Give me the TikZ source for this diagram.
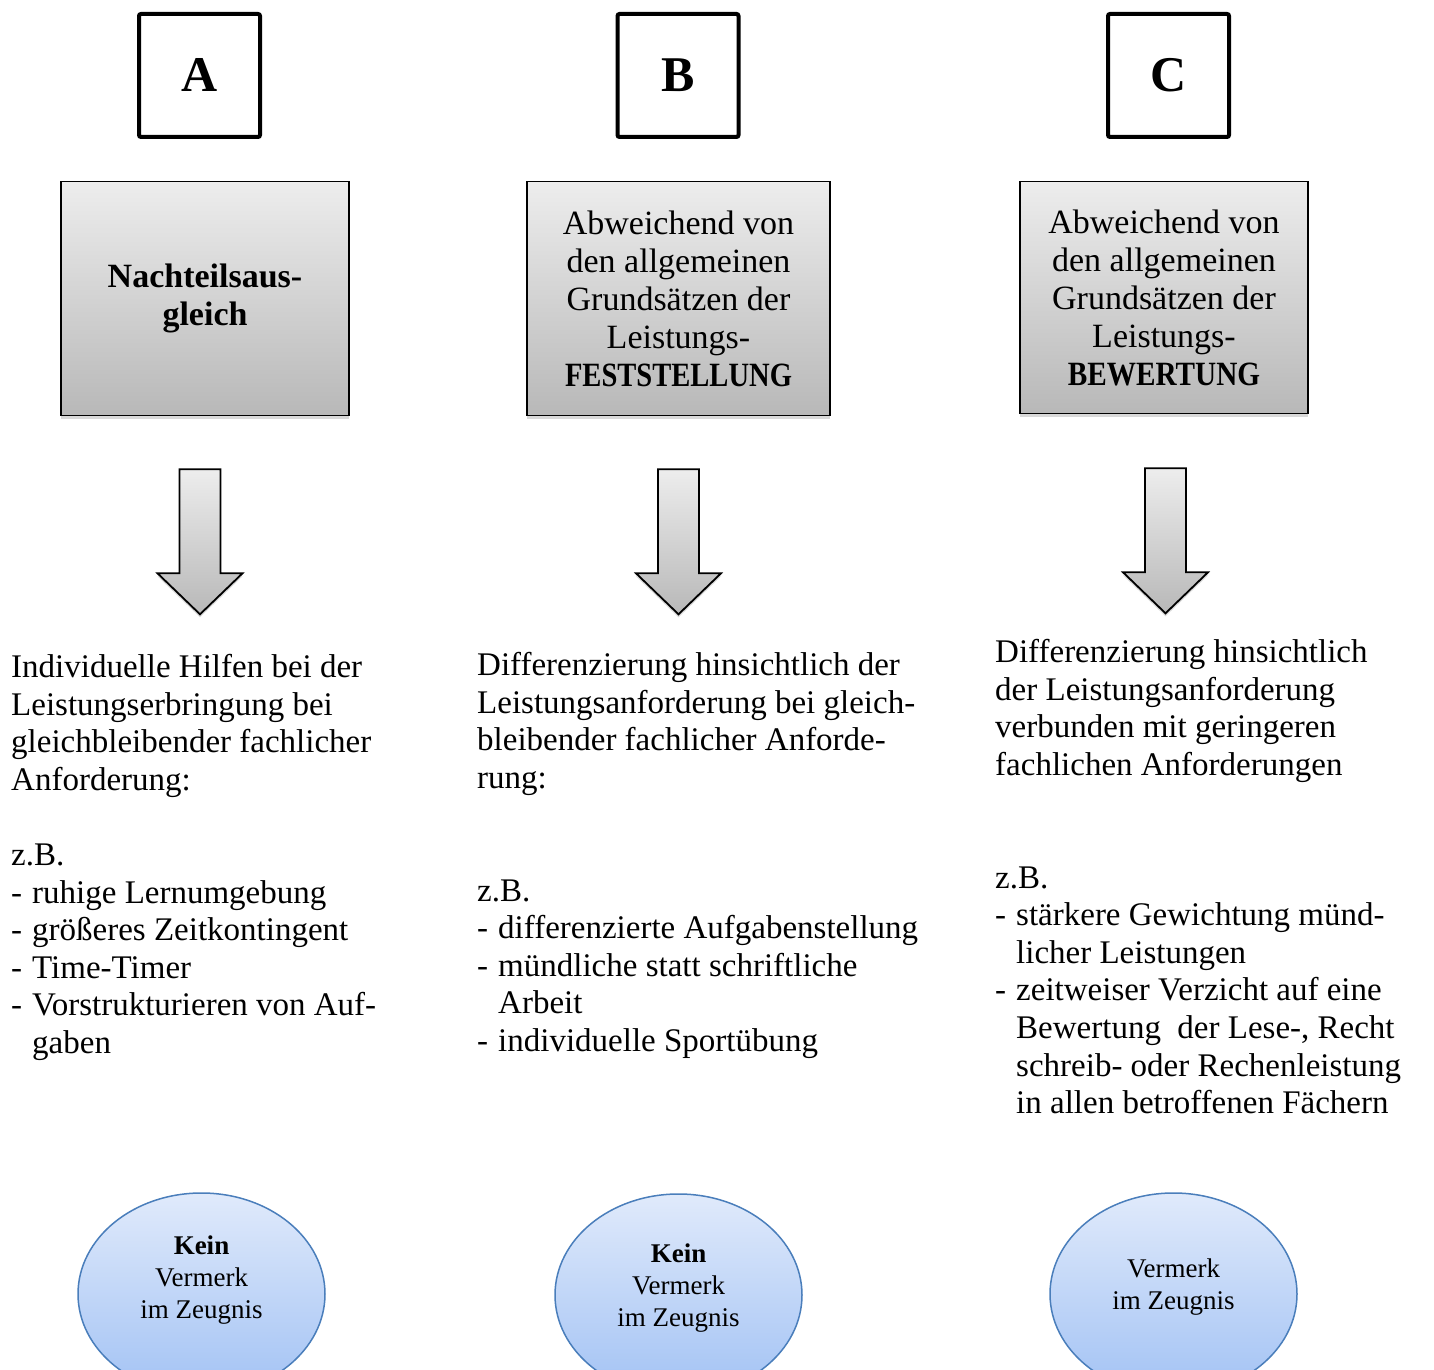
\documentclass[tikz,border=0pt]{standalone}
\usepackage{fontspec}
\setmainfont{Liberation Serif}
\usetikzlibrary{positioning,shapes.geometric,shadows}
\definecolor{grauoben}{HTML}{EDEDED}
\definecolor{grauunten}{HTML}{B8B8B8}
\definecolor{blauoben}{HTML}{E0EAFB}
\definecolor{blauunten}{HTML}{A2C2F4}
\definecolor{blaurand}{HTML}{4A7EBB}
\newcommand\strich{\makebox[21pt][l]{-}}
\newcommand\einzug{\hspace*{21pt}}

\begin{document}
\begin{tikzpicture}[x=1pt,y=1pt,
  buchstabe/.style={draw,line width=4pt,rounded corners=2pt,minimum width=121pt,
    minimum height=123pt,inner sep=0pt,font=\fontsize{50}{55}\selectfont\bfseries},
  kasten/.style={draw,line width=1.3pt,top color=grauoben,bottom color=grauunten,
    minimum height=234pt,align=center,inner sep=0pt,font=\fontsize{34}{38}\selectfont,
    drop shadow={shadow xshift=0pt,shadow yshift=-3pt,opacity=0.3}},
  pfeil/.style={draw,line width=1.8pt,line join=miter,top color=grauoben,bottom color=grauunten,
    drop shadow={shadow xshift=0pt,shadow yshift=-3pt,opacity=0.3}},
  fliess/.style={anchor=north west,align=left,inner sep=0pt,font=\fontsize{33}{37.6}\selectfont},
  oval/.style={ellipse,draw=blaurand,line width=1.5pt,top color=blauoben,bottom color=blauunten,
    minimum width=247pt,minimum height=202pt,inner sep=0pt},
  ovaltext/.style={align=center,font=\fontsize{27}{32}\selectfont}]
  \useasboundingbox (0,0) rectangle (1434,1369);
  \clip (0,0) rectangle (1434,1369);

  % Spaltenkoepfe
  \node[buchstabe] (A) at (199.5,1293.5) {A};
  \node[buchstabe] (B) at (678,1293.5) {B};
  \node[buchstabe] (C) at (1168.5,1293.5) {C};

  \node[kasten,minimum width=288pt] (kA) [below=42pt of A,xshift=5.5pt]
    {\textbf{Nachteilsaus-}\\\textbf{gleich}};
  \node[kasten,minimum width=303pt] (kB) [below=42pt of B,xshift=0.5pt]
    {Abweichend von\\den allgemeinen\\Grundsätzen der\\Leistungs-\\
     \scalebox{0.84}[1]{\textbf{FESTSTELLUNG}}};
  \node[kasten,minimum width=288pt,minimum height=232pt] (kC) [below=42pt of C,xshift=-4.5pt]
    {Abweichend von\\den allgemeinen\\Grundsätzen der\\Leistungs-\\
     \scalebox{0.86}[1]{\textbf{BEWERTUNG}}};

  % Blockpfeile
  \draw[pfeil] ([xshift=-5pt,yshift=-53pt]kA.south) ++(-20.5,0) -- ++(0,-104) -- ++(-22,0)
    -- ++(42.5,-41) -- ++(42.5,41) -- ++(-22,0) -- ++(0,104) -- cycle;
  \draw[pfeil] ([yshift=-53pt]kB.south) ++(-20.5,0) -- ++(0,-104) -- ++(-22,0)
    -- ++(42.5,-41) -- ++(42.5,41) -- ++(-22,0) -- ++(0,104) -- cycle;
  \draw[pfeil] ([xshift=1.5pt,yshift=-54pt]kC.south) ++(-20.5,0) -- ++(0,-104) -- ++(-22,0)
    -- ++(42.5,-41) -- ++(42.5,41) -- ++(-22,0) -- ++(0,104) -- cycle;

  % Texte
  \node[fliess] (tA) at (11,715) {Individuelle Hilfen bei der\\Leistungserbringung bei\\
    gleichbleibender fachlicher\\Anforderung:\\[37.6pt]
    z.B.\\\strich ruhige Lernumgebung\\\strich größeres Zeitkontingent\\\strich Time-Timer\\
    \strich Vorstrukturieren von Auf-\\\einzug gaben};
  \node[fliess] (tB) at (477,717) {Differenzierung hinsichtlich der\\Leistungsanforderung bei gleich-\\
    bleibender fachlicher Anforde-\\rung:\\[75.2pt]
    z.B.\\\strich differenzierte Aufgabenstellung\\\strich mündliche statt schriftliche\\
    \einzug Arbeit\\\strich individuelle Sportübung};
  \node[fliess] (tC) at (995,730) {Differenzierung hinsichtlich\\der Leistungsanforderung\\
    verbunden mit geringeren\\fachlichen Anforderungen\\[75.2pt]
    z.B.\\\strich stärkere Gewichtung münd-\\\einzug licher Leistungen\\
    \strich zeitweiser Verzicht auf eine\\\einzug Bewertung\ \ der Lese-, Recht\\
    \einzug schreib- oder Rechenleistung\\\einzug in allen betroffenen Fächern};

  % Zeugnisvermerk
  \node[oval] (zA) at (201.5,75) {};
  \node[oval] (zB) at (678.5,74) {};
  \node[oval] (zC) at (1173.5,75) {};
  \node[ovaltext] at ([yshift=14pt]zA.center) {\textbf{Kein}\\Vermerk\\im Zeugnis};
  \node[ovaltext] at ([yshift=7pt]zB.center) {\textbf{Kein}\\Vermerk\\im Zeugnis};
  \node[ovaltext] at ([yshift=7pt]zC.center) {Vermerk\\im Zeugnis};
\end{tikzpicture}
\end{document}
